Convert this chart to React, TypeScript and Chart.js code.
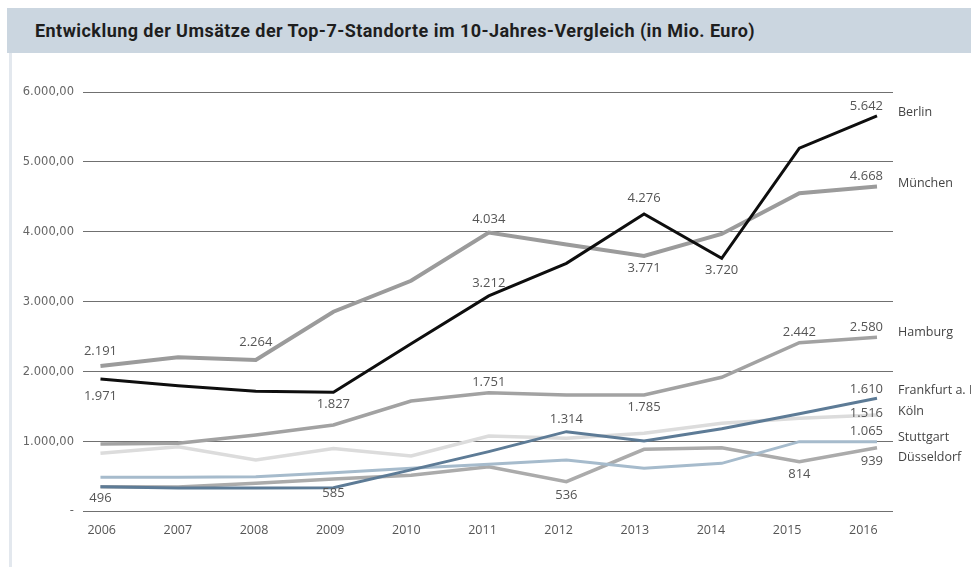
import React, { useEffect, useRef } from 'react';
import { Chart, registerables } from 'chart.js';

Chart.register(...registerables);

// ---------- data ----------
const years = [2006, 2007, 2008, 2009, 2010, 2011, 2012, 2013, 2014, 2015, 2016];
const yearLabels = ['2006', '2007', '2008', '2009', '2010', '2011', '2012', '2013', '2014', '2015', '2016'];

const yTicks = [0, 1000, 2000, 3000, 4000, 5000, 6000];
const yTickLabels = ['-', '1.000,00', '2.000,00', '3.000,00', '4.000,00', '5.000,00', '6.000,00'];

const seriesNames = ['Berlin', 'München', 'Frankfurt a. M', 'Hamburg', 'Stuttgart', 'Düsseldorf', 'Köln'];

const berlin = [1895, 1800, 1720, 1705, 2400, 3084, 3550, 4256, 3622, 5196, 5658];
const muenchen = [2082, 2206, 2167, 2858, 3300, 3989, 3820, 3655, 3970, 4552, 4647];
const frankfurt = [355, 335, 335, 341, 595, 856, 1142, 1009, 1184, 1397, 1619];
const hamburg = [966, 975, 1094, 1237, 1581, 1700, 1667, 1667, 1920, 2415, 2492];
const stuttgart = [489, 489, 498, 555, 618, 675, 737, 618, 689, 999, 999];
const duesseldorf = [355, 350, 405, 465, 520, 641, 426, 890, 913, 712, 913];
const koeln = [832, 927, 737, 900, 794, 1080, 1047, 1119, 1262, 1333, 1381];

const berlinLabels = ['1.971', '', '', '1.827', '', '3.212', '', '4.276', '3.720', '', '5.642'];
const muenchenLabels = ['2.191', '', '2.264', '', '', '4.034', '', '3.771', '', '', '4.668'];
const frankfurtLabels = ['', '', '', '', '', '', '1.314', '', '', '', '1.610'];
const hamburgLabels = ['', '', '', '', '', '1.751', '', '1.785', '', '2.442', '2.580'];
const stuttgartLabels = ['', '', '', '', '', '', '', '', '', '', '1.065'];
const duesseldorfLabels = ['496', '', '', '585', '', '', '536', '', '', '814', '939'];
const koelnLabels = ['', '', '', '', '', '', '', '', '', '', '1.516'];

const seriesValues = [berlin, muenchen, frankfurt, hamburg, stuttgart, duesseldorf, koeln];
const seriesLabels = [berlinLabels, muenchenLabels, frankfurtLabels, hamburgLabels, stuttgartLabels, duesseldorfLabels, koelnLabels];

// ---------- styles ----------
const STYLE = {
  colors: ['#0e0e0e', '#9b9b9b', '#5d7b96', '#a2a2a2', '#a6bbcc', '#ababab', '#dcdcdc'],
  widths: [3, 4, 3, 3.5, 3, 3.5, 3.5],
  // vertical offsets of value labels (per series, per point)
  labelDy: [
    [17, 0, 0, 12, 0, -13, 0, -16, 12, 0, -10],
    [-15, 0, -18, 0, 0, -13, 0, 12, 0, 0, -10],
    [0, 0, 0, 0, 0, 0, -12, 0, 0, 0, -9],
    [0, 0, 0, 0, 0, -10, 0, 12, 0, -10, -10],
    [0, 0, 0, 0, 0, 0, 0, 0, 0, 0, -10],
    [12, 0, 0, 14, 0, 0, 14, 0, 0, 13, 14],
    [0, 0, 0, 0, 0, 0, 0, 0, 0, 0, -2],
  ],
  nameDy: [-3, -3, -8, -5, -4, 10, -4],
};

const labelPlugin = {
  id: 'valueLabels',
  afterDatasetsDraw(chart: any) {
    const ctx = chart.ctx;
    const xs = chart.scales.xData;
    const ys = chart.scales.y;
    const last = years.length - 1;
    ctx.save();
    ctx.textBaseline = 'middle';
    seriesLabels.forEach((labels, si) => {
      labels.forEach((t, i) => {
        if (!t) return;
        const x = xs.getPixelForValue(years[i]);
        const y = ys.getPixelForValue(seriesValues[si][i]) + STYLE.labelDy[si][i];
        ctx.font = '13px "Open Sans"';
        ctx.fillStyle = '#555555';
        if (i === last) {
          ctx.textAlign = 'right';
          ctx.fillText(t, x + 6, y);
        } else {
          ctx.textAlign = 'center';
          ctx.fillText(t, x, y);
        }
      });
      const xe = xs.getPixelForValue(years[last]);
      const ye = ys.getPixelForValue(seriesValues[si][last]) + STYLE.nameDy[si];
      ctx.font = '12.5px "Open Sans"';
      ctx.fillStyle = '#444444';
      ctx.textAlign = 'left';
      ctx.fillText(seriesNames[si], xe + 21, ye);
    });
    ctx.restore();
  },
};

export default function App() {
  const ref = useRef<HTMLCanvasElement | null>(null);

  useEffect(() => {
    if (!ref.current) return;
    const chart = new Chart(ref.current, {
      type: 'line',
      data: {
        datasets: seriesNames.map((name, si) => ({
          label: name,
          data: years.map((yr, i) => ({ x: yr, y: seriesValues[si][i] })),
          borderColor: STYLE.colors[si],
          backgroundColor: STYLE.colors[si],
          borderWidth: STYLE.widths[si],
          pointRadius: 0,
          tension: 0,
          fill: false,
          xAxisID: 'xData',
          yAxisID: 'y',
          borderJoinStyle: 'miter' as const,
        })),
      },
      options: {
        animation: false,
        responsive: false,
        devicePixelRatio: 1,
        layout: { padding: { left: 0, right: 78, top: 92, bottom: 0 } },
        plugins: {
          legend: { display: false },
          tooltip: { enabled: false },
          title: { display: false },
        },
        scales: {
          x: {
            type: 'linear',
            position: 'bottom',
            min: 2005.7545,
            max: 2016.39,
            grid: { display: false, drawTicks: false },
            border: { display: false },
            ticks: {
              stepSize: 1,
              includeBounds: false,
              autoSkip: false,
              maxRotation: 0,
              padding: 11,
              color: '#555555',
              font: { family: '"Open Sans"', size: 12.5 },
              callback: (v: any) => {
                const k = years.indexOf(Number(v));
                return k >= 0 ? yearLabels[k] : '';
              },
            },
            afterFit: (s: any) => {
              s.height = 55.5;
            },
          },
          xData: {
            type: 'linear',
            display: false,
            min: 2005.775,
            max: 2016.206,
          },
          y: {
            type: 'linear',
            min: 0,
            max: 6000,
            grid: { color: '#707070', lineWidth: 1, drawTicks: false },
            border: { display: false },
            ticks: {
              stepSize: 1000,
              padding: 9,
              color: '#666666',
              font: { family: '"DejaVu Sans"', size: 11.5 },
              callback: (v: any) => {
                const k = yTicks.indexOf(Number(v));
                return k >= 0 ? yTickLabels[k] : '';
              },
            },
            afterFit: (s: any) => {
              s.width = 83;
            },
          },
        },
      } as any,
      plugins: [labelPlugin],
    });
    return () => chart.destroy();
  }, []);

  return (
    <div style={{ position: 'fixed', left: 0, top: 0, width: 971, height: 567, background: '#ffffff', overflow: 'hidden' }}>
      <div
        style={{
          position: 'absolute',
          left: 7,
          top: 8,
          width: 964,
          height: 45,
          background: '#cbd6e0',
          boxSizing: 'border-box',
          paddingLeft: 28,
          lineHeight: '45px',
          fontFamily: 'Roboto, sans-serif',
          fontWeight: 700,
          fontSize: 18,
          letterSpacing: '0.45px',
          color: '#1e1e1e',
          whiteSpace: 'nowrap',
        }}
      >
        Entwicklung der Umsätze der Top-7-Standorte im 10-Jahres-Vergleich (in Mio. Euro)
      </div>
      <div style={{ position: 'absolute', left: 9, top: 53, width: 3, height: 514, background: '#e3e8ee' }} />
      <canvas ref={ref} width={971} height={567} style={{ position: 'absolute', left: 0, top: 0, width: 971, height: 567 }} />
    </div>
  );
}
